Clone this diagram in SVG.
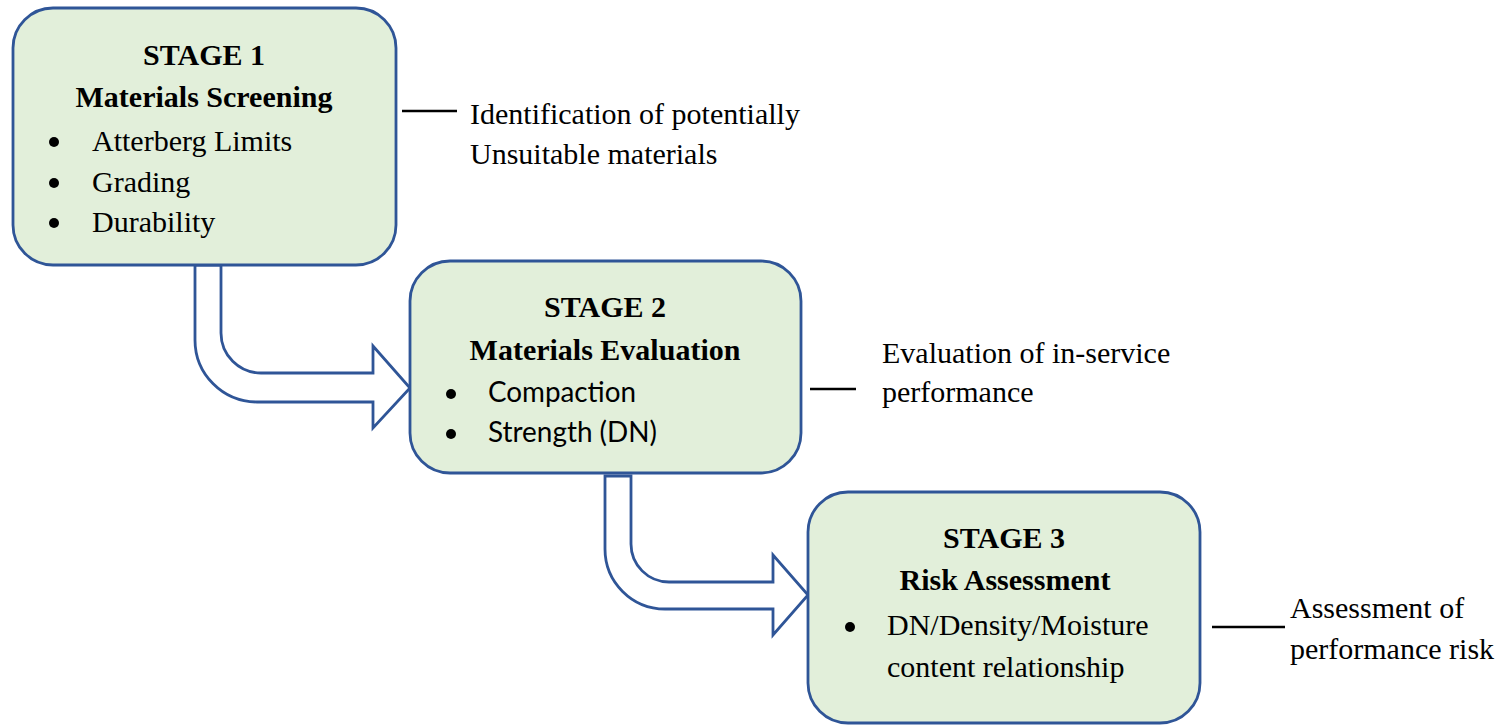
<svg xmlns="http://www.w3.org/2000/svg" width="1505" height="725" viewBox="0 0 1505 725">
<style>
.box{fill:#E2EFDA;stroke:#2F5597;stroke-width:2.8}
.arrow{fill:#FFFFFF;stroke:#2F5597;stroke-width:2.8;stroke-linejoin:miter}
.lead{stroke:#000;stroke-width:2.5}
.t{font-family:"Liberation Serif","Times New Roman",serif;font-size:30px;fill:#000}
.b{font-weight:bold}
.c{font-family:Lato,"Liberation Sans",sans-serif;font-size:28px;fill:#000}
.dot{fill:#000}
</style>
<rect width="1505" height="725" fill="#FFFFFF"/>
<g id="connectors">
<path class="arrow" d="M195,265 L221,265 L221,333 A40,40 0 0 0 261,373 L373,373 L373,346 L410,388 L373,428 L373,402 L257,402 A62,62 0 0 1 195,340 Z"/>
<path class="arrow" d="M605,476 L631,476 L631,544 A38,38 0 0 0 669,582 L773,582 L773,555 L808,595 L773,635 L773,609 L665,609 A60,60 0 0 1 605,549 Z"/>
<line class="lead" x1="402" y1="111" x2="457" y2="111"/>
<line class="lead" x1="810" y1="389" x2="856" y2="389"/>
<line class="lead" x1="1212" y1="627" x2="1285" y2="627"/>
</g>
<g id="stage1">
<rect class="box" x="13" y="8" width="383" height="257" rx="40" ry="40"/>
<text class="t b" x="204" y="65" text-anchor="middle">STAGE 1</text>
<text class="t b" x="204" y="107" text-anchor="middle">Materials Screening</text>
<circle class="dot" cx="54" cy="142" r="5"/>
<text class="t" x="92" y="151">Atterberg Limits</text>
<circle class="dot" cx="54" cy="183" r="5"/>
<text class="t" x="92" y="192">Grading</text>
<circle class="dot" cx="54" cy="223" r="5"/>
<text class="t" x="92" y="232">Durability</text>
</g>
<g id="stage2">
<rect class="box" x="410" y="261" width="391" height="212" rx="40" ry="40"/>
<text class="t b" x="605" y="317" text-anchor="middle">STAGE 2</text>
<text class="t b" x="605" y="360" text-anchor="middle">Materials Evaluation</text>
<circle class="dot" cx="451" cy="394" r="5"/>
<text class="c" x="488" y="402" textLength="148" lengthAdjust="spacingAndGlyphs">Compaction</text>
<circle class="dot" cx="451" cy="434" r="5"/>
<text class="c" x="488" y="442" textLength="169" lengthAdjust="spacingAndGlyphs">Strength (DN)</text>
</g>
<g id="stage3">
<rect class="box" x="808" y="492" width="392" height="231" rx="40" ry="40"/>
<text class="t b" x="1004" y="548" text-anchor="middle">STAGE 3</text>
<text class="t b" x="1005" y="590" text-anchor="middle">Risk Assessment</text>
<circle class="dot" cx="850" cy="627" r="5"/>
<text class="t" x="887" y="635">DN/Density/Moisture</text>
<text class="t" x="887" y="677">content relationship</text>
</g>
<g id="note1">
<text class="t" x="470" y="124">Identification of potentially</text>
<text class="t" x="470" y="164">Unsuitable materials</text>
</g>
<g id="note2">
<text class="t" x="882" y="363">Evaluation of in-service</text>
<text class="t" x="882" y="402">performance</text>
</g>
<g id="note3">
<text class="t" x="1290" y="618">Assessment of</text>
<text class="t" x="1290" y="659">performance risk</text>
</g>
</svg>
